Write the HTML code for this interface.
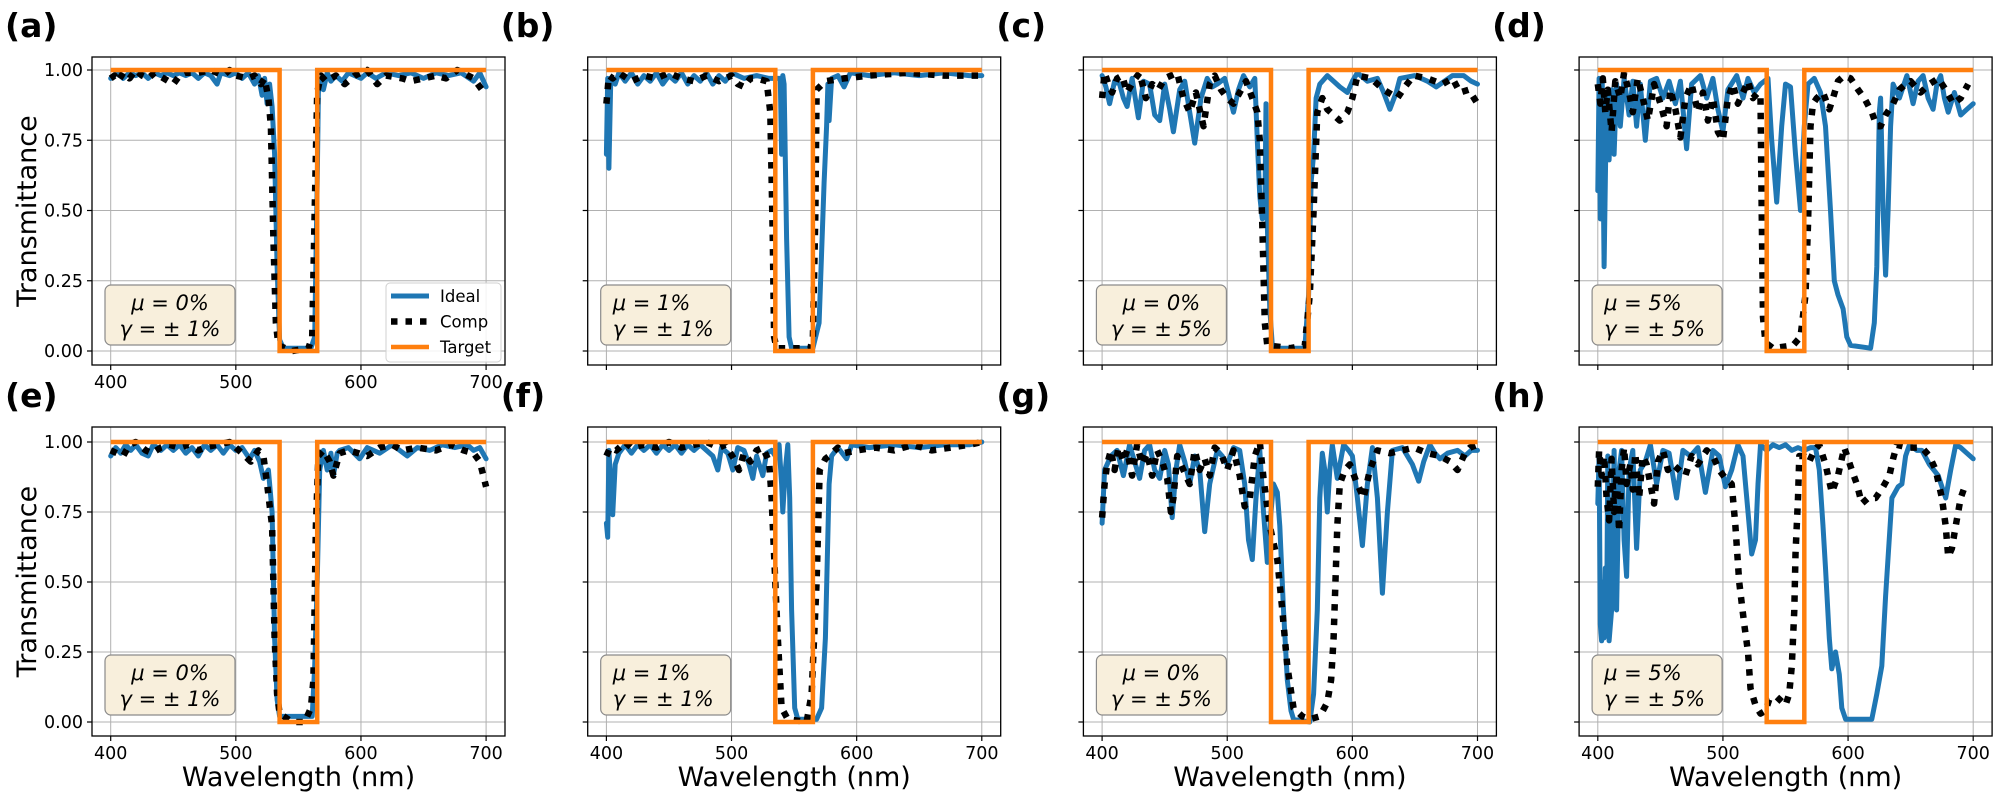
<!DOCTYPE html>
<html><head><meta charset="utf-8"><style>
html,body{margin:0;padding:0;background:#fff;}
svg{display:block;font-family:"DejaVu Sans","Liberation Sans",sans-serif;}
</style></head><body>
<svg id="fig" width="1996" height="795" viewBox="0 0 1996 795" xmlns="http://www.w3.org/2000/svg"></svg>
<script>
const panelLabels=["(a)","(b)","(c)","(d)","(e)","(f)","(g)","(h)"];
const muLabels=["0%","1%","0%","5%","0%","1%","0%","5%"];
const gammaLabels=["± 1%","± 1%","± 5%","± 5%","± 1%","± 1%","± 5%","± 5%"];
const xTicks=[400,500,600,700];
const yTicks=[0,0.25,0.5,0.75,1.0];
const yTickLabels=["0.00","0.25","0.50","0.75","1.00"];
const targetSeries=[[400,1],[535,1],[535,0],[565,0],[565,1],[700,1]];

const idealA=[[400,0.97],[405,0.99],[410,0.97],[415,0.99],[420,0.98],[425,0.99],[430,0.97],[435,0.99],[440,0.98],[445,0.99],[450,0.98],[455,0.99],[460,0.98],[465,0.99],[470,0.97],[475,0.99],[480,0.98],[485,0.95],[488,0.99],[495,0.98],[500,0.99],[505,0.97],[510,0.99],[515,0.95],[518,0.98],[521,0.91],[523,0.97],[525,0.88],[527,0.95],[529,0.87],[531,0.7],[533,0.3],[535,0.04],[538,0.01],[560,0.01],[563,0.05],[565,0.6],[566,0.92],[568,0.97],[570,0.93],[573,0.99],[576,0.96],[580,0.98],[585,0.96],[590,0.99],[600,0.97],[605,0.99],[612,0.97],[620,0.99],[630,0.98],[640,0.99],[650,0.97],[660,0.99],[670,0.98],[680,0.99],[690,0.96],[695,0.99],[700,0.94]];
const compA=[[400,0.97],[403,0.98],[406,0.96],[410,0.99],[415,0.97],[420,1.0],[425,0.98],[430,0.97],[435,0.99],[450,0.95],[455,0.98],[460,0.99],[470,0.99],[480,1.0],[490,0.98],[495,1.0],[500,0.98],[510,0.97],[515,0.98],[520,0.95],[523,0.97],[526,0.9],[528,0.8],[530,0.4],[532,0.1],[534,0.02],[545,0.0],[558,0.01],[561,0.05],[563,0.5],[565,0.92],[568,0.98],[572,0.96],[580,0.98],[587,0.95],[595,0.98],[605,1.0],[613,0.95],[620,0.98],[633,0.97],[640,0.96],[660,0.98],[668,0.97],[677,1.0],[690,0.97],[700,0.91]];

const idealB=[[400,0.7],[401,0.97],[402,0.65],[403.5,0.97],[407,0.95],[410,0.99],[415,0.96],[420,0.99],[425,0.95],[430,0.98],[435,0.96],[440,0.99],[445,0.95],[450,0.98],[455,0.96],[460,0.99],[465,0.95],[470,0.98],[475,0.96],[480,0.99],[485,0.95],[490,0.98],[495,0.96],[500,0.99],[510,0.97],[520,0.98],[530,0.97],[537,0.97],[539,0.97],[540,0.7],[541,0.98],[542,0.95],[544,0.4],[546,0.05],[548,0.01],[565,0.01],[570,0.1],[574,0.6],[576,0.8],[577,0.95],[578,0.82],[580,0.97],[585,0.98],[590,0.94],[595,0.99],[610,0.98],[630,0.99],[650,0.98],[670,0.99],[690,0.98],[700,0.98]];
const compB=[[400,0.88],[402,0.98],[405,0.97],[410,0.99],[420,0.96],[430,0.98],[440,0.97],[450,0.99],[460,0.97],[470,0.96],[480,0.98],[490,0.96],[500,0.98],[505,0.95],[510,0.94],[515,0.97],[520,0.97],[528,0.96],[531,0.85],[533,0.4],[534,0.05],[536,0.01],[563,0.01],[565,0.05],[567,0.5],[568,0.93],[575,0.96],[590,0.97],[610,0.98],[640,0.99],[670,0.98],[700,0.98]];

const idealC=[[400,0.98],[403,0.94],[406,0.88],[410,0.96],[414,0.95],[417,0.9],[420,0.87],[424,0.97],[429,0.83],[433,0.96],[438,0.95],[442,0.84],[446,0.82],[450,0.95],[454,0.86],[457,0.78],[462,0.93],[466,0.96],[470,0.85],[474,0.74],[479,0.9],[484,0.97],[488,0.94],[492,0.95],[498,0.97],[505,0.85],[509,0.93],[513,0.98],[518,0.94],[522,0.97],[524,0.75],[526,0.55],[528,0.47],[530,0.48],[531,0.88],[532,0.45],[534,0.15],[536,0.02],[540,0.01],[562,0.01],[565,0.2],[567,0.6],[569,0.7],[571,0.9],[574,0.95],[580,0.98],[585,0.96],[590,0.94],[596,0.92],[600,0.96],[604,0.99],[612,0.96],[620,0.97],[625,0.92],[630,0.86],[635,0.92],[638,0.97],[650,0.98],[660,0.96],[667,0.94],[680,0.98],[689,0.98],[695,0.96],[700,0.95]];
const compC=[[400,0.9],[402,0.99],[405,0.95],[408,0.92],[412,0.97],[416,0.98],[420,0.92],[425,0.96],[430,0.99],[435,0.9],[440,0.95],[445,0.93],[450,0.97],[460,0.99],[465,0.9],[470,0.85],[475,0.92],[481,0.8],[486,0.95],[490,0.98],[495,0.93],[500,0.9],[505,0.88],[510,0.92],[515,0.96],[520,0.9],[524,0.85],[526,0.75],[528,0.45],[530,0.1],[532,0.02],[550,0.01],[562,0.02],[566,0.2],[569,0.5],[572,0.85],[576,0.9],[580,0.86],[585,0.84],[590,0.82],[596,0.85],[600,0.9],[604,0.98],[615,0.97],[625,0.93],[636,0.9],[642,0.94],[649,0.98],[660,0.97],[672,0.95],[680,0.97],[686,0.92],[693,0.93],[700,0.88]];

const idealD=[[400,0.57],[401,0.97],[402,0.47],[403.5,0.97],[405,0.3],[407,0.92],[409,0.68],[411,0.93],[413,0.7],[415,0.95],[418,0.8],[421,0.97],[425,0.84],[428,0.96],[431,0.8],[434,0.95],[438,0.75],[442,0.96],[447,0.97],[452,0.9],[457,0.96],[462,0.88],[466,0.96],[471,0.72],[475,0.95],[482,0.98],[487,0.9],[492,0.97],[496,0.86],[500,0.78],[504,0.93],[511,0.98],[516,0.9],[520,0.97],[525,0.92],[530,0.95],[536,0.97],[539,0.75],[543,0.53],[547,0.8],[550,0.95],[554,0.94],[558,0.7],[562,0.5],[565,0.8],[568,0.95],[573,0.97],[578,0.92],[582,0.8],[586,0.5],[589,0.25],[592,0.2],[596,0.15],[599,0.05],[602,0.02],[618,0.01],[621,0.1],[623,0.3],[625,0.85],[626,0.9],[628,0.5],[630,0.27],[632,0.5],[634,0.8],[636,0.95],[641,0.9],[647,0.98],[652,0.88],[656,0.96],[660,0.98],[664,0.9],[668,0.86],[671,0.95],[674,0.98],[677,0.9],[680,0.85],[685,0.92],[690,0.84],[695,0.86],[700,0.88]];
const compD=[[400,0.95],[402,0.88],[404,0.97],[406,0.85],[408,0.93],[411,0.78],[414,0.96],[418,0.9],[421,0.99],[425,0.92],[428,0.85],[432,0.97],[436,0.9],[440,0.82],[445,0.95],[450,0.88],[455,0.8],[458,0.93],[462,0.86],[466,0.76],[470,0.9],[475,0.95],[480,0.85],[484,0.92],[488,0.82],[492,0.9],[496,0.78],[500,0.75],[504,0.9],[508,0.95],[512,0.88],[516,0.92],[520,0.96],[524,0.9],[528,0.92],[530,0.9],[531,0.5],[532,0.12],[534,0.03],[540,0.01],[556,0.02],[562,0.05],[566,0.2],[568,0.45],[570,0.8],[572,0.88],[575,0.9],[580,0.92],[585,0.86],[588,0.9],[592,0.96],[597,0.98],[602,0.97],[608,0.93],[613,0.9],[619,0.85],[623,0.8],[626,0.8],[630,0.84],[636,0.88],[641,0.93],[646,0.95],[650,0.96],[658,0.92],[665,0.95],[672,0.97],[678,0.93],[684,0.88],[690,0.9],[696,0.95]];

const idealE=[[400,0.95],[404,0.98],[408,0.96],[412,0.99],[416,0.97],[420,0.99],[425,0.96],[430,0.95],[434,0.99],[440,0.97],[445,0.99],[450,0.97],[455,0.99],[460,0.96],[465,0.98],[470,0.95],[475,0.99],[480,0.97],[485,0.99],[490,0.96],[495,0.99],[500,0.97],[505,0.98],[511,0.94],[515,0.97],[519,0.93],[522,0.87],[526,0.9],[529,0.75],[531,0.3],[533,0.08],[535,0.02],[561,0.02],[563,0.2],[565,0.5],[567,0.9],[570,0.97],[573,0.9],[576,0.96],[578,0.88],[581,0.96],[583,0.97],[590,0.98],[599,0.94],[605,0.98],[615,0.96],[625,0.99],[637,0.95],[645,0.98],[655,0.97],[665,0.99],[675,0.98],[685,0.99],[690,0.97],[695,0.98],[700,0.94]];
const compE=[[400,0.97],[405,0.96],[410,0.95],[415,0.99],[420,1.0],[428,0.97],[433,0.96],[440,0.98],[447,0.99],[455,0.98],[462,0.99],[470,0.97],[475,0.98],[485,0.99],[495,1.0],[505,0.96],[512,0.93],[518,0.97],[522,0.95],[525,0.85],[529,0.7],[531,0.3],[533,0.1],[535,0.03],[545,0.0],[555,0.0],[560,0.05],[562,0.15],[564,0.7],[566,0.95],[570,0.97],[575,0.93],[578,0.88],[583,0.96],[590,0.97],[598,0.96],[605,0.95],[615,0.98],[625,0.99],[633,0.97],[645,0.98],[660,0.97],[672,0.99],[682,0.97],[690,0.96],[695,0.93],[700,0.84]];

const idealF=[[400,0.71],[401,0.66],[402,0.97],[403.5,0.85],[405,0.74],[407,0.92],[410,0.96],[415,0.99],[420,0.96],[425,0.99],[430,0.97],[435,0.99],[440,0.96],[445,0.99],[450,0.97],[455,0.99],[460,0.96],[465,0.99],[470,0.97],[475,0.99],[480,0.97],[485,0.95],[489,0.9],[492,0.98],[497,0.96],[501,0.9],[505,0.98],[510,0.97],[514,0.92],[517,0.87],[520,0.95],[525,0.88],[528,0.96],[532,0.97],[535,0.95],[538,0.99],[540,0.85],[541,0.75],[543,0.9],[545,0.99],[546.5,0.8],[548,0.4],[550.5,0.05],[553,0.01],[568,0.01],[572,0.05],[575,0.3],[578,0.85],[580,0.95],[585,0.98],[592,0.94],[596,0.99],[610,0.98],[630,0.99],[650,0.98],[670,0.99],[690,0.99],[700,1.0]];
const compF=[[400,0.95],[403,0.98],[408,0.97],[415,1.0],[420,0.98],[430,0.99],[440,0.98],[450,1.0],[460,0.98],[470,0.99],[480,1.0],[490,0.98],[495,0.99],[502,0.94],[506,0.9],[510,0.96],[515,0.93],[520,0.97],[525,0.98],[530,0.93],[532,0.8],[535,0.5],[537,0.3],[540,0.05],[545,0.01],[560,0.0],[564,0.1],[568,0.5],[570.5,0.9],[575,0.94],[578,0.95],[585,0.98],[590,0.96],[600,0.97],[615,0.98],[630,0.97],[645,0.99],[660,0.97],[675,0.98],[690,0.99],[700,1.0]];

const idealG=[[400,0.71],[402,0.9],[407,0.95],[412,0.97],[417,0.88],[422,0.99],[426,0.93],[430,0.87],[434,0.97],[438,0.99],[442,0.9],[446,0.87],[450,0.97],[453,0.92],[456,0.73],[459,0.9],[462,0.99],[466,0.93],[470,0.85],[474,0.95],[478,0.9],[482,0.68],[486,0.85],[492,0.97],[496,0.95],[500,0.92],[505,0.98],[510,0.97],[514,0.85],[517,0.65],[520,0.58],[523,0.8],[526,0.97],[529,0.75],[532,0.57],[535,0.75],[537,0.85],[540,0.82],[542,0.7],[545,0.4],[548,0.15],[551,0.04],[553,0.01],[566,0.0],[569,0.1],[572,0.4],[574,0.8],[576,0.96],[578,0.9],[580,0.75],[582,0.9],[584,0.99],[588,0.87],[593,0.99],[597,0.97],[600,0.95],[604,0.8],[608,0.63],[612,0.85],[616,0.98],[620,0.8],[624,0.46],[628,0.75],[632,0.97],[640,0.98],[648,0.92],[653,0.86],[657,0.93],[662,0.99],[666,0.96],[670,0.94],[676,0.96],[684,0.97],[690,0.95],[695,0.97],[700,0.97]];
const compG=[[400,0.73],[402,0.85],[404,0.92],[407,0.97],[410,0.9],[413,0.98],[417,0.93],[420,0.97],[424,0.88],[428,0.99],[432,0.92],[436,0.96],[440,0.88],[444,0.97],[448,0.93],[452,0.87],[455,0.75],[457,0.8],[460,0.95],[465,0.9],[470,0.85],[474,0.97],[478,0.9],[482,0.94],[486,0.88],[490,0.98],[495,0.96],[500,0.9],[505,0.97],[510,0.88],[514,0.77],[518,0.8],[522,0.95],[526,1.0],[529,0.87],[534,0.7],[540,0.58],[544,0.4],[548,0.2],[553,0.05],[560,0.02],[566,0.01],[574,0.02],[580,0.07],[583,0.15],[585,0.3],[588,0.7],[590,0.85],[594,0.9],[598,0.92],[603,0.86],[609,0.8],[614,0.9],[620,0.97],[630,0.96],[640,0.97],[649,0.98],[660,0.96],[670,0.95],[678,0.93],[684,0.9],[690,0.96],[694,0.98],[700,0.99]];

const idealH=[[400,0.78],[401,0.95],[402,0.35],[403,0.29],[404,0.5],[405,0.3],[406,0.55],[407,0.35],[408,0.95],[409,0.29],[411,0.4],[413,0.97],[415,0.4],[417,0.9],[419,0.97],[421,0.65],[423,0.52],[425,0.9],[428,0.97],[431,0.62],[434,0.9],[438,0.93],[442,0.99],[447,0.85],[452,0.97],[457,0.96],[463,0.8],[468,0.97],[474,0.95],[480,0.98],[486,0.82],[492,0.97],[497,0.95],[502,0.84],[507,0.9],[512,0.99],[516,0.95],[520,0.75],[523,0.6],[526,0.65],[528,0.85],[530,0.99],[535,0.97],[540,0.99],[545,0.98],[550,0.99],[555,0.97],[560,0.98],[565,0.97],[570,0.98],[574,0.98],[577,0.9],[580,0.7],[582,0.55],[585,0.3],[587,0.19],[590,0.25],[593,0.17],[595,0.05],[598,0.01],[619,0.01],[623,0.1],[627,0.2],[630,0.45],[635,0.8],[640,0.84],[643,0.85],[646,0.95],[649,0.99],[655,0.97],[659,0.97],[665,0.92],[672,0.88],[678,0.8],[682,0.9],[686,0.99],[690,0.98],[695,0.96],[700,0.94]];
const compH=[[400,0.84],[401,0.97],[403,0.88],[405,0.95],[407,0.8],[409,0.72],[411,0.94],[413,0.75],[415,0.89],[417,0.68],[419,0.9],[421,0.98],[423,0.85],[426,0.92],[428,0.83],[430,0.96],[433,0.8],[436,0.95],[439,0.92],[442,0.85],[445,0.78],[448,0.93],[452,0.97],[456,0.9],[460,0.92],[465,0.9],[470,0.88],[475,0.95],[480,0.92],[487,0.97],[492,0.95],[497,0.9],[502,0.87],[507,0.85],[510,0.7],[513,0.5],[517,0.35],[520,0.25],[522,0.12],[526,0.06],[530,0.03],[534,0.04],[537,0.08],[543,0.09],[550,0.06],[553,0.1],[555,0.2],[557,0.4],[558,0.6],[560,0.8],[561,0.95],[565,0.95],[569,0.93],[573,0.97],[577,0.99],[582,0.92],[587,0.82],[592,0.88],[597,0.98],[603,0.9],[607,0.85],[611,0.78],[616,0.8],[622,0.8],[628,0.84],[633,0.88],[636,0.94],[639,0.99],[648,0.98],[659,0.98],[665,0.95],[670,0.9],[675,0.8],[678,0.7],[680,0.59],[683,0.62],[686,0.7],[690,0.8],[694,0.85]];

const idealSeries=[idealA,idealB,idealC,idealD,idealE,idealF,idealG,idealH];
const compSeries=[compA,compB,compC,compD,compE,compF,compG,compH];

const NS="http://www.w3.org/2000/svg";
const svg=document.getElementById('fig');
function mk(tag,attrs,parent){const e=document.createElementNS(NS,tag);for(const k in attrs)e.setAttribute(k,attrs[k]);(parent||svg).appendChild(e);return e;}

const defs=mk('defs',{});
for(let p=0;p<8;p++){
  const col=p%4,row=Math.floor(p/4);
  const L=92+col*495.7,W=413;
  const T=row===0?57:427,B=row===0?365:736;
  const y1=row===0?70:442,y0=row===0?351:722;
  const xS=w=>L+18.7+(w-400)*1.2513;
  const yS=t=>y0-(y0-y1)*t;
  const cp=mk('clipPath',{id:'clip'+p},defs);
  mk('rect',{x:L,y:T,width:W,height:B-T},cp);

  const g=mk('g',{});
  
  

  for(const xv of xTicks){
    const l=mk('line',{x1:xS(xv),x2:xS(xv),y1:T,y2:B,stroke:'#b0b0b0','stroke-width':1},g);
    
    
    const tk=mk('line',{x1:xS(xv),x2:xS(xv),y1:B,y2:B+5,stroke:'#000','stroke-width':1.2},g);
    
    
    if(row===1||p===0){
      const t=mk('text',{x:xS(xv),y:B+23,'text-anchor':'middle','font-size':17.5,fill:'#000'},g);
      t.textContent=String(xv);
      
      
    }
  }
  yTicks.forEach((yv,i)=>{
    const l=mk('line',{x1:L,x2:L+W,y1:yS(yv),y2:yS(yv),stroke:'#b0b0b0','stroke-width':1},g);
    
    
    const tk=mk('line',{x1:L-5,x2:L,y1:yS(yv),y2:yS(yv),stroke:'#000','stroke-width':1.2},g);
    
    
    if(col===0){
      const t=mk('text',{x:L-9,y:yS(yv)+6,'text-anchor':'end','font-size':17.5,fill:'#000'},g);
      t.textContent=yTickLabels[i];
      
      
    }
  });

  const path=arr=>arr.map((d,i)=>(i?'L':'M')+xS(d[0]).toFixed(1)+' '+yS(d[1]).toFixed(1)).join(' ');
  const cg=mk('g',{'clip-path':'url(#clip'+p+')'},g);
  const ideal=mk('path',{d:path(idealSeries[p]),fill:'none',stroke:'#1f77b4','stroke-width':5,'stroke-linejoin':'round','stroke-linecap':'round'},cg);
  
  
  const comp=mk('path',{d:path(compSeries[p]),fill:'none',stroke:'#000','stroke-width':6.5,'stroke-dasharray':'6.5 8','stroke-linejoin':'round'},cg);
  
  
  const tgt=mk('path',{d:path(targetSeries),fill:'none',stroke:'#ff7f0e','stroke-width':4.5,'stroke-linejoin':'miter'},cg);
  
  

  const fr=mk('rect',{x:L,y:T,width:W,height:B-T,fill:'none',stroke:'#000','stroke-width':1.3},g);
  
  

  const bx=L+13,by=T+228;
  const ab=mk('rect',{x:bx,y:by,width:130,height:60,rx:6,fill:'#f8efdc',stroke:'#8a8a8a','stroke-width':1.2},g);
  
  
  const center=(p%2===0);
  const ax=center?bx+65:bx+12, anc=center?'middle':'start';
  const t1=mk('text',{x:ax,y:by+25,'text-anchor':anc,'font-size':21,'font-style':'italic',fill:'#000'},g);
  t1.textContent='μ = '+muLabels[p];
  
  
  const t2=mk('text',{x:ax,y:by+51,'text-anchor':anc,'font-size':21,'font-style':'italic',fill:'#000'},g);
  t2.textContent='γ = '+gammaLabels[p];
  
  

  const pl=mk('text',{x:L-87,y:T-20,'font-size':33,'font-weight':'bold',fill:'#000'},g);
  pl.textContent=panelLabels[p];
  
  

  if(row===1){
    const xl=mk('text',{x:L+W/2,y:786,'text-anchor':'middle','font-size':27,fill:'#000'},g);
    xl.textContent='Wavelength (nm)';
    
    
  }
  if(col===0){
    const cy=(T+B)/2;
    const yl=mk('text',{x:36,y:cy,'text-anchor':'middle','font-size':27,fill:'#000',transform:'rotate(-90 36 '+cy+')'},g);
    yl.textContent='Transmittance';
    
    
  }

  if(p===0){
    const lg=mk('g',{},g);
    
    
    mk('rect',{x:386,y:283,width:115,height:79,rx:4,fill:'#fff','fill-opacity':0.85,stroke:'#d0d0d0','stroke-width':1},lg);
    const items=[['Ideal','#1f77b4','none',5],['Comp','#000','6.5 8',6.5],['Target','#ff7f0e','none',4.5]];
    items.forEach((it,i)=>{
      const yy=296+i*25.5;
      const ln=mk('line',{x1:391,x2:429,y1:yy,y2:yy,stroke:it[1],'stroke-width':it[3],'stroke-dasharray':it[2]},lg);
      
      
      const tx=mk('text',{x:440,y:yy+6,'font-size':16.5,fill:'#000'},lg);
      tx.textContent=it[0];
      
      
    });
  }
}
</script>
</body></html>
